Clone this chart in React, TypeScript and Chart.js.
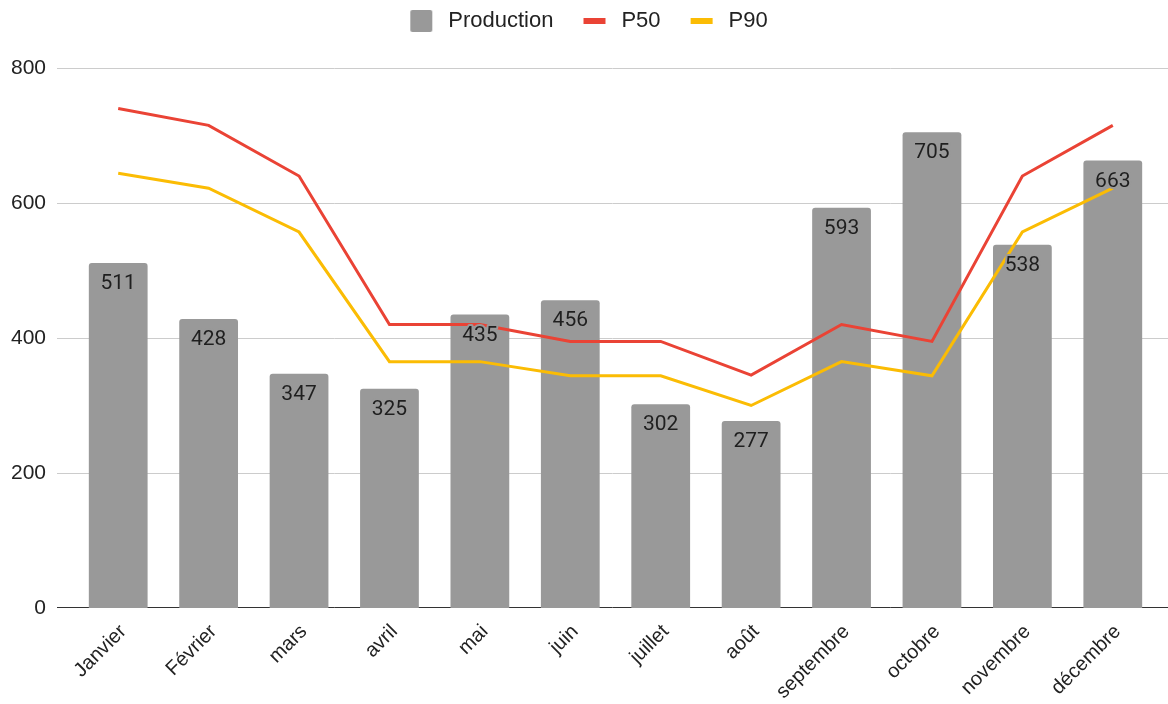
import React, { useEffect, useRef } from 'react';
import { Chart, registerables } from 'chart.js';

Chart.register(...registerables);

const categories = ['Janvier', 'Février', 'mars', 'avril', 'mai', 'juin', 'juillet', 'août', 'septembre', 'octobre', 'novembre', 'décembre'];
const production = [511, 428, 347, 325, 435, 456, 302, 277, 593, 705, 538, 663];
const p50 = [740, 715, 640, 420, 420, 395, 395, 345, 420, 395, 640, 715];
const p90 = [644, 622, 557, 365, 365, 344, 344, 300, 365, 344, 557, 622];
const yTicks = [0, 200, 400, 600, 800];
const seriesNames = ['Production', 'P50', 'P90'];

const COLORS = ['#999999', '#ea4335', '#fbbc04'];
const FONT = "'Liberation Sans', Arial, sans-serif";

function makeSwatch(kind: 'box' | 'line', color: string): HTMLCanvasElement {
  const c = document.createElement('canvas');
  c.width = 47;
  c.height = 22;
  const ctx = c.getContext('2d')!;
  ctx.fillStyle = color;
  if (kind === 'box') {
    ctx.beginPath();
    (ctx as any).roundRect ? (ctx as any).roundRect(20, 0, 22, 22, 2) : ctx.rect(20, 0, 22, 22);
    ctx.fill();
  } else {
    ctx.fillRect(20, 8, 22, 6);
  }
  return c;
}

const gridPlugin = {
  id: 'extGrid',
  beforeDatasetsDraw(chart: any) {
    const { ctx } = chart;
    const y = chart.scales.y;
    const left = chart.chartArea.left - 16;
    ctx.save();
    ctx.lineWidth = 1;
    yTicks.forEach((v) => {
      const raw = Math.round(y.getPixelForValue(v));
      const py = v === 0 ? raw - 0.5 : raw + 0.5;
      ctx.strokeStyle = v === 0 ? '#333333' : '#cccccc';
      ctx.beginPath();
      ctx.moveTo(left, py);
      ctx.lineTo(chart.width, py);
      ctx.stroke();
    });
    ctx.restore();
  },
};

const labelPlugin = {
  id: 'barLabels',
  afterDatasetsDraw(chart: any) {
    const { ctx } = chart;
    const meta = chart.getDatasetMeta(0);
    ctx.save();
    ctx.font = "21px Roboto, 'Noto Sans', sans-serif";
    ctx.textAlign = 'center';
    ctx.textBaseline = 'middle';
    ctx.lineJoin = 'round';
    meta.data.forEach((el: any, i: number) => {
      const t = String(production[i]);
      ctx.strokeStyle = COLORS[0];
      ctx.lineWidth = 4;
      ctx.strokeText(t, el.x, el.y + 21);
      ctx.fillStyle = '#1f1f1f';
      ctx.fillText(t, el.x, el.y + 21);
    });
    ctx.restore();
  },
};

const legendSpacer = {
  id: 'legendSpacer',
  beforeLayout(chart: any) {
    const lg = chart.legend;
    if (lg && !lg._patched) {
      const orig = lg.fit;
      lg.fit = function () {
        orig.call(this);
        this.height = 68;
      };
      lg._patched = true;
    }
  },
};

export default function App() {
  const ref = useRef<HTMLCanvasElement | null>(null);

  useEffect(() => {
    if (!ref.current) return;
    const swatches = [
      makeSwatch('box', COLORS[0]),
      makeSwatch('line', COLORS[1]),
      makeSwatch('line', COLORS[2]),
    ];
    const chart = new Chart(ref.current, {
      type: 'bar',
      data: {
        labels: categories,
        datasets: [
          {
            type: 'bar',
            label: seriesNames[0],
            data: production,
            backgroundColor: COLORS[0],
            barPercentage: 0.65,
            categoryPercentage: 1,
            borderRadius: { topLeft: 3, topRight: 3, bottomLeft: 0, bottomRight: 0 },
            borderSkipped: 'bottom',
            order: 3,
          } as any,
          {
            type: 'line',
            label: seriesNames[1],
            data: p50,
            borderColor: COLORS[1],
            backgroundColor: COLORS[1],
            borderWidth: 3,
            pointRadius: 0,
            tension: 0,
            order: 2,
          } as any,
          {
            type: 'line',
            label: seriesNames[2],
            data: p90,
            borderColor: COLORS[2],
            backgroundColor: COLORS[2],
            borderWidth: 3,
            pointRadius: 0,
            tension: 0,
            order: 1,
          } as any,
        ],
      },
      options: {
        animation: false,
        responsive: true,
        maintainAspectRatio: false,
        layout: { padding: { left: 0, right: 10, top: 0, bottom: 0 } },
        plugins: {
          tooltip: { enabled: false },
          legend: {
            position: 'top',
            labels: {
              usePointStyle: true,
              pointStyleWidth: 47,
              padding: 10,
              color: '#222222',
              font: { size: 22, family: FONT },
              generateLabels: () =>
                seriesNames.map((name, i) => ({
                  text: name,
                  pointStyle: swatches[i] as any,
                  fillStyle: COLORS[i],
                  strokeStyle: COLORS[i],
                  lineWidth: 0,
                  hidden: false,
                  datasetIndex: i,
                  fontColor: '#222222',
                })),
            },
          },
        },
        scales: {
          x: {
            grid: { display: false, drawTicks: false },
            border: { display: false },
            ticks: {
              autoSkip: false,
              maxRotation: 45,
              minRotation: 45,
              padding: 12,
              labelOffset: 5,
              color: '#222222',
              font: { size: 20, family: FONT },
            },
            afterFit: (s: any) => {
              s.height = 96;
            },
          },
          y: {
            min: 0,
            max: 800,
            afterBuildTicks: (s: any) => {
              s.ticks = yTicks.map((v) => ({ value: v }));
            },
            ticks: {
              padding: 27,
              color: '#222222',
              font: { size: 21, family: FONT },
            },
            grid: { display: false, drawTicks: false },
            border: { display: false },
            afterFit: (s: any) => {
              s.width = 73;
            },
          },
        },
      } as any,
      plugins: [gridPlugin, labelPlugin, legendSpacer] as any,
    });
    return () => chart.destroy();
  }, []);

  return (
    <div style={{ position: 'fixed', left: 0, top: 0, width: 1168, height: 704, background: '#ffffff' }}>
      <canvas ref={ref} />
    </div>
  );
}
